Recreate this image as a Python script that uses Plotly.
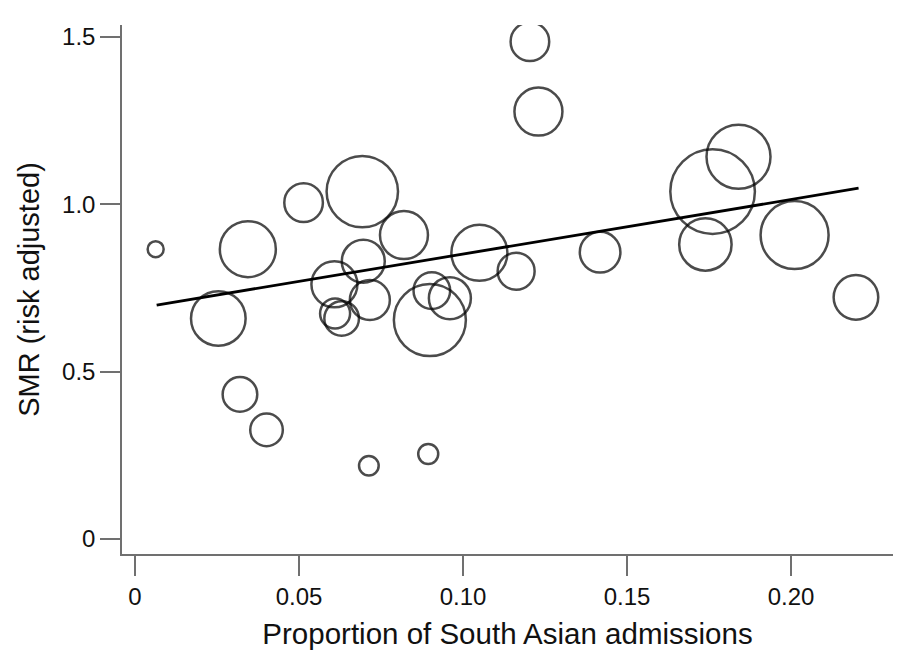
import numpy as np
import plotly.graph_objects as go

# Data (proportion of South Asian admissions vs risk-adjusted SMR)
prop_south_asian = [0.0063, 0.0254, 0.0320, 0.0344, 0.0401, 0.0514, 0.0608, 0.0610,
                    0.0630, 0.0693, 0.0696, 0.0713, 0.0716, 0.0820, 0.0894, 0.0899,
                    0.0905, 0.0960, 0.1050, 0.1162, 0.1204, 0.1230, 0.1418, 0.1739,
                    0.1761, 0.1840, 0.2011, 0.2198]
smr = [0.866, 0.659, 0.432, 0.866, 0.326, 1.005, 0.761, 0.674,
       0.659, 1.038, 0.830, 0.219, 0.714, 0.908, 0.254, 0.654,
       0.742, 0.719, 0.855, 0.800, 1.486, 1.277, 0.857, 0.880,
       1.038, 1.142, 0.908, 0.722]
# relative bubble weights (proportional to circle area)
weight = [81, 801, 335, 841, 299, 412, 576, 256,
          335, 1347, 506, 117, 441, 625, 121, 1369,
          372, 484, 841, 380, 412, 625, 454, 740,
          1875, 1089, 1225, 543]

# fitted regression line end points
fit_x = [0.0066, 0.2206]
fit_y = [0.699, 1.048]

x_tickvals = [0, 0.05, 0.10, 0.15, 0.20]
x_ticktext = ["0", "0.05", "0.10", "0.15", "0.20"]
y_tickvals = [0, 0.5, 1.0, 1.5]
y_ticktext = ["0", "0.5", "1.0", "1.5"]

diam = 2 * np.sqrt(np.array(weight, dtype=float)) - 2

fig = go.Figure()
fig.add_trace(go.Scatter(
    x=prop_south_asian, y=smr, mode="markers",
    marker=dict(size=diam, sizemode="diameter", color="rgba(0,0,0,0)",
                line=dict(color="#000000", width=2.5)),
    showlegend=False, hoverinfo="x+y"))
fig.add_trace(go.Scatter(
    x=fit_x, y=fit_y, mode="lines",
    line=dict(color="#000000", width=2.8), showlegend=False))

font_family = "Liberation Sans, Arial, sans-serif"
axis_common = dict(
    showline=True, linecolor="#707070", linewidth=1.5,
    ticks="outside", ticklen=20, tickwidth=1.5, tickcolor="#707070",
    showgrid=False, zeroline=False,
    tickfont=dict(family=font_family, size=24, color="#111111"),
)

fig.update_layout(
    width=897, height=656,
    margin=dict(l=122, r=4, t=25, b=102),
    paper_bgcolor="white", plot_bgcolor="white",
    font=dict(family=font_family, color="#111111"),
    xaxis=dict(range=[-0.003963, 0.2311], tickvals=x_tickvals, ticktext=x_ticktext,
               title=dict(text="Proportion of South Asian admissions",
                          font=dict(family=font_family, size=29.5, color="#111111"),
                          standoff=15),
               **axis_common),
    yaxis=dict(range=[-0.0448, 1.5357], tickvals=y_tickvals, ticktext=y_ticktext,
               title=dict(text="SMR (risk adjusted)",
                          font=dict(family=font_family, size=29, color="#111111"),
                          standoff=14),
               **axis_common),
)

fig.write_html("out.html")
